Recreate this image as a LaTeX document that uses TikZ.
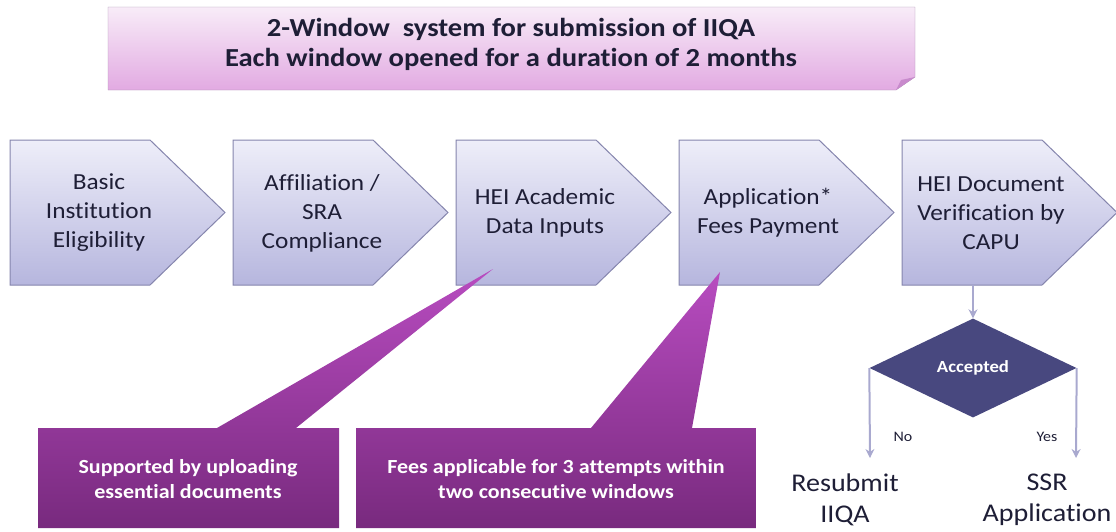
\documentclass[tikz,border=0pt]{standalone}
\usepackage{fontspec}
\setmainfont[FakeStretch=1.1,Ligatures=NoCommon]{Carlito}
\usetikzlibrary{shapes.geometric,arrows.meta}
\definecolor{chevtop}{HTML}{EEEEF9}
\definecolor{chevbot}{HTML}{B6B6DE}
\definecolor{chevline}{HTML}{8585AD}
\definecolor{navy}{HTML}{1E1E36}
\definecolor{bantop}{HTML}{F8ECF8}
\definecolor{banbot}{HTML}{E2AAE2}
\definecolor{banline}{HTML}{A890B0}
\definecolor{banfold}{HTML}{C88ACC}
\definecolor{calltop}{HTML}{B84CC0}
\definecolor{callbot}{HTML}{782A7E}
\definecolor{dia}{HTML}{48487F}
\definecolor{flowc}{HTML}{A9A9CF}
\begin{document}
\begin{tikzpicture}[x=1pt,y=-1pt,
    chev/.style={draw=chevline,line width=1pt,top color=chevtop,bottom color=chevbot},
    chevtext/.style={align=center,text=navy,font=\fontsize{23}{29}\selectfont},
    calltext/.style={align=center,text=white,font=\bfseries\fontsize{20}{25}\selectfont},
    flow/.style={draw=flowc,line width=2pt,-{Stealth[length=9pt,width=9pt]}},
    result/.style={align=center,text=navy,font=\fontsize{25.5}{31}\selectfont}]

        \useasboundingbox (0,0) rectangle (1116,531);

        %%draw the banner
        \draw[draw=banline,top color=bantop,bottom color=banbot] (108,7) -- (915,7) -- (915,77) -- (896,90) -- (108,90) -- cycle;
        \fill[banfold] (896,90) -- (915,77) -- (901,80) -- cycle;
        \node[font=\bfseries\fontsize{26}{30}\selectfont,text=navy,align=center] (title) at (511,44){2-Window\ \ system for submission of IIQA\\Each window opened for a duration of 2 months};

        %%draw the chevrons
        \foreach \x in {10,233,456,679,902}
            \draw[chev] (\x,140) -- ++(140,0) -- ++(75,72.5) -- ++(-75,72.5) -- ++(-140,0) -- cycle;
        \node[chevtext] (elig) at (99,213){Basic\\Institution\\Eligibility};
        \node[chevtext] (sra) at (322,213){Affiliation /\\SRA\\Compliance};
        \node[chevtext] (data) at (545,213){HEI Academic\\Data Inputs};
        \node[chevtext] (fees) at (768,213){Application*\\Fees Payment};
        \node[chevtext] (capu) at (991,213){HEI Document\\Verification by\\CAPU};

        %%draw the callouts
        \shade[top color=calltop,bottom color=callbot] (38,428) -- (217,428) -- (493,269) -- (296,428) -- (339,428) -- (339,528) -- (38,528) -- cycle;
        \shade[top color=calltop,bottom color=callbot] (356,428) -- (591,428) -- (720,272) -- (692,428) -- (756,428) -- (756,528) -- (356,528) -- cycle;
        \node[calltext] (upl) at (188,479){Supported by uploading\\essential documents};
        \node[calltext] (fee) at (556,479){Fees applicable for 3 attempts within\\two consecutive windows};

        %%draw the decision
        \node[diamond,aspect=2.09,fill=dia,minimum width=207pt,minimum height=99pt,inner sep=0pt,text=white,font=\bfseries\fontsize{17}{19}\selectfont] (acc) at (973,368){Accepted};
        \coordinate (capubot) at (973,285);
        \coordinate (noend) at (870,458);
        \coordinate (yesend) at (1076,458);
        \draw[flow] (capubot) -- (acc.north);
        \draw[flow] (acc.west) -- (noend);
        \draw[flow] (acc.east) -- (yesend);
        \node[font=\fontsize{14.5}{16}\selectfont,text=navy] (no) at (903,437){No};
        \node[font=\fontsize{14.5}{16}\selectfont,text=navy] (yes) at (1047,437){Yes};

        \node[result] (resub) at (845,500){Resubmit\\IIQA};
        \node[result] (ssr) at (1047,500){SSR\\Application};

    \end{tikzpicture}
\end{document}
